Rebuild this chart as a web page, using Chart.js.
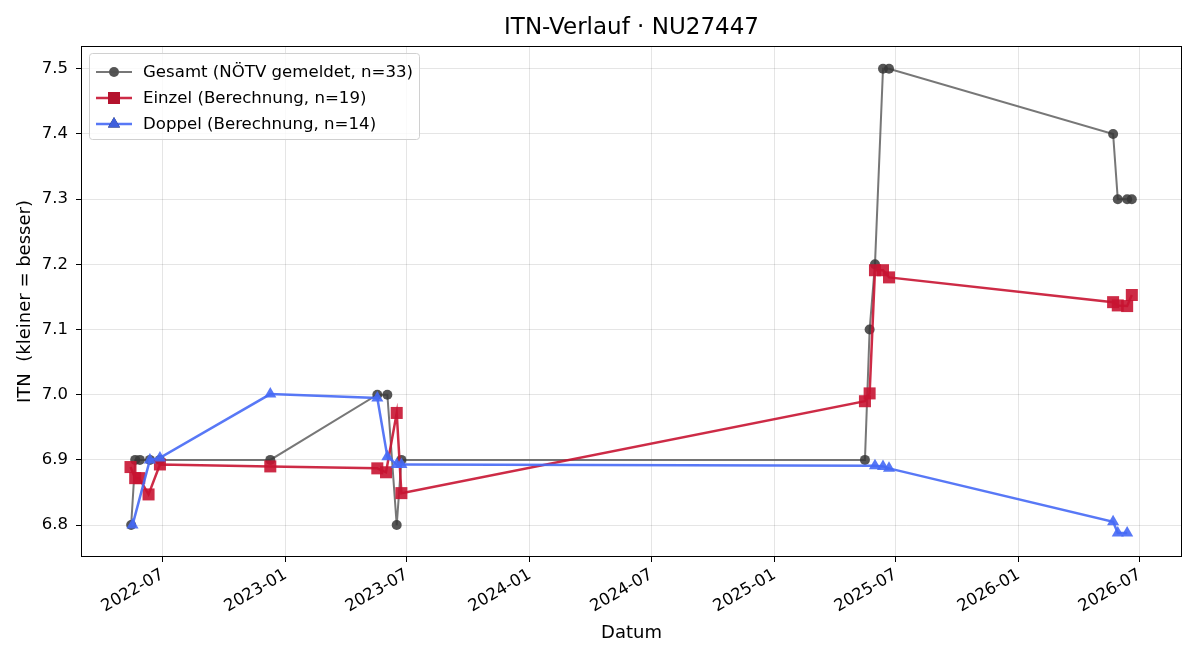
<!DOCTYPE html>
<html>
<head>
<meta charset="utf-8">
<script src="https://cdn.jsdelivr.net/npm/chart.js@4.4.1/dist/chart.umd.min.js"></script>
<style>
  html, body { margin: 0; padding: 0; background: #fff; }
  #wrap { width: 1200px; height: 660px; position: relative; }
</style>
</head>
<body>
<div id="wrap"><canvas id="c" width="1200" height="660"></canvas></div>
<script>
// Gesamt (reported ITN)
const gesamtDates = ["2022-05-15", "2022-05-21", "2022-05-28", "2022-06-12", "2022-06-27", "2022-12-09",
  "2023-05-18", "2023-06-02", "2023-06-16", "2023-06-23", "2025-05-16", "2025-05-23", "2025-05-31",
  "2025-06-12", "2025-06-21", "2026-05-22", "2026-05-29", "2026-06-12", "2026-06-19"];
const gesamtValues = [6.8, 6.9, 6.9, 6.9, 6.9, 6.9, 7.0, 7.0, 6.8, 6.9, 6.9, 7.1, 7.2, 7.5, 7.5, 7.4, 7.3, 7.3, 7.3];

// Einzel (computed)
const einzelDates = ["2022-05-14", "2022-05-21", "2022-05-27", "2022-06-10", "2022-06-27", "2022-12-09",
  "2023-05-18", "2023-05-31", "2023-06-16", "2023-06-23", "2025-05-16", "2025-05-23", "2025-05-31",
  "2025-06-12", "2025-06-21", "2026-05-22", "2026-05-29", "2026-06-12", "2026-06-19"];
const einzelValues = [6.889, 6.872, 6.872, 6.847, 6.893, 6.890, 6.887, 6.881, 6.972, 6.849, 6.990, 7.002,
  7.191, 7.191, 7.180, 7.142, 7.137, 7.136, 7.153];

// Doppel (computed)
const doppelDates = ["2022-05-17", "2022-06-12", "2022-06-27", "2022-12-09", "2023-05-18", "2023-06-02",
  "2023-06-16", "2023-06-23", "2025-05-31", "2025-06-12", "2025-06-21", "2026-05-22", "2026-05-29", "2026-06-12"];
const doppelValues = [6.80, 6.90, 6.903, 7.001, 6.995, 6.905, 6.893, 6.893, 6.891, 6.890, 6.887, 6.805, 6.788, 6.788];

const labels = ["Gesamt (NÖTV gemeldet, n=33)", "Einzel (Berechnung, n=19)", "Doppel (Berechnung, n=14)"];
const xTickLabels = ["2022-07", "2023-01", "2023-07", "2024-01", "2024-07", "2025-01", "2025-07", "2026-01", "2026-07"];
const yTicks = [6.8, 6.9, 7.0, 7.1, 7.2, 7.3, 7.4, 7.5];

const ts = s => { const p = s.split("-").map(Number); return Date.UTC(p[0], p[1] - 1, p[2] || 1); };
const pts = (d, v) => d.map((s, i) => ({ x: ts(s), y: v[i] }));

const FONT = "'DejaVu Sans', sans-serif";

const framePlugin = {
  id: "frame",
  afterDraw(chart) {
    const { ctx, chartArea: a } = chart;
    ctx.save();
    ctx.strokeStyle = "#000";
    ctx.lineWidth = 1;
    ctx.strokeRect(a.left + 0.5, a.top + 0.5, a.right - a.left - 1, a.bottom - a.top - 1);
    // title
    ctx.fillStyle = "#000";
    ctx.font = "23px " + FONT;
    ctx.textAlign = "center";
    ctx.textBaseline = "middle";
    ctx.fillText("ITN-Verlauf · NU27447", (a.left + a.right) / 2, 28);
    // legend
    const bx = a.left + 8, by = a.top + 7, bw = 330, bh = 86;
    ctx.fillStyle = "rgba(255,255,255,0.8)";
    ctx.strokeStyle = "#d0d0d0";
    ctx.beginPath();
    ctx.roundRect(bx + 0.5, by + 0.5, bw, bh, 3);
    ctx.fill();
    ctx.stroke();
    chart.data.datasets.forEach((ds, i) => {
      const y = by + 19 + i * 26;
      ctx.strokeStyle = ds.borderColor;
      ctx.lineWidth = ds.borderWidth;
      ctx.beginPath();
      ctx.moveTo(bx + 7, y);
      ctx.lineTo(bx + 43, y);
      ctx.stroke();
      Chart.helpers.drawPoint(ctx, {
        pointStyle: ds.pointStyle, radius: ds.pointRadius, borderWidth: 0, rotation: 0
      }, bx + 25, y);
      ctx.fillStyle = ds.pointBackgroundColor;
      ctx.fill();
      ctx.fillStyle = "#000";
      ctx.font = "16.6px " + FONT;
      ctx.textAlign = "left";
      ctx.textBaseline = "middle";
      ctx.fillText(labels[i], bx + 54, y + 1);
    });
    ctx.restore();
  }
};

new Chart(document.getElementById("c"), {
  type: "line",
  data: {
    datasets: [
      {
        label: labels[0],
        data: pts(gesamtDates, gesamtValues),
        borderColor: "rgba(85,85,85,0.8)",
        borderWidth: 2,
        pointStyle: "circle",
        pointRadius: 5,
        pointBackgroundColor: "rgba(55,55,55,0.85)",
        pointBorderWidth: 0,
        order: 3
      },
      {
        label: labels[1],
        data: pts(einzelDates, einzelValues),
        borderColor: "rgba(200,20,50,0.9)",
        borderWidth: 2.5,
        pointStyle: "rect",
        pointRadius: 8.5,
        pointBackgroundColor: "rgba(200,20,50,0.9)",
        pointBorderWidth: 0,
        order: 2
      },
      {
        label: labels[2],
        data: pts(doppelDates, doppelValues),
        borderColor: "rgba(70,105,245,0.9)",
        borderWidth: 2.5,
        pointStyle: "triangle",
        pointRadius: 7,
        pointBackgroundColor: "rgba(70,105,245,0.9)",
        pointBorderWidth: 0,
        order: 1
      }
    ]
  },
  options: {
    responsive: false,
    animation: false,
    layout: { padding: { top: 46, right: 18, left: 0, bottom: 0 } },
    plugins: { legend: { display: false }, tooltip: { enabled: false }, title: { display: false } },
    elements: { line: { tension: 0 } },
    scales: {
      x: {
        type: "linear",
        min: ts("2022-03-01"),
        max: ts("2026-09-02"),
        afterBuildTicks: s => { s.ticks = xTickLabels.map(l => ({ value: ts(l) })); },
        afterFit: s => { s.height = 103; },
        ticks: {
          autoSkip: false,
          minRotation: 30,
          maxRotation: 30,
          padding: 3,
          color: "#000",
          font: { family: FONT, size: 16.5 },
          callback: v => { const d = new Date(v); return d.getUTCFullYear() + "-" + String(d.getUTCMonth() + 1).padStart(2, "0"); }
        },
        grid: { color: "rgba(0,0,0,0.1)", tickColor: "#000", tickLength: 5, drawOnChartArea: true },
        border: { display: false },
        title: { display: true, text: "Datum", color: "#000", font: { family: FONT, size: 18 }, padding: { top: 4, bottom: 16 } }
      },
      y: {
        min: 6.751,
        max: 7.535,
        afterBuildTicks: s => { s.ticks = yTicks.map(v => ({ value: v })); },
        afterFit: s => { s.width = 81; },
        ticks: {
          color: "#000",
          padding: 8,
          font: { family: FONT, size: 16.5 },
          callback: v => v.toFixed(1)
        },
        grid: { color: "rgba(0,0,0,0.1)", tickColor: "#000", tickLength: 5 },
        border: { display: false },
        title: { display: true, text: "ITN  (kleiner = besser)", color: "#000", font: { family: FONT, size: 18 }, padding: { top: 15, bottom: 4 } }
      }
    }
  },
  plugins: [framePlugin]
});
</script>
</body>
</html>
